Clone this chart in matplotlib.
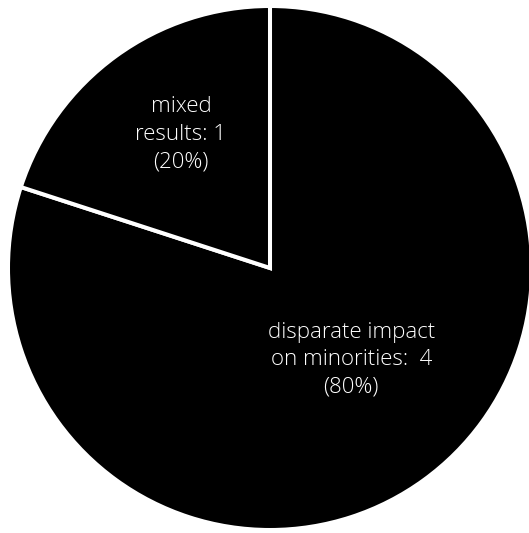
import matplotlib
matplotlib.use("Agg")
import matplotlib.pyplot as plt

categories = ["disparate impact\non minorities", "mixed\nresults"]
counts = [4, 1]
separators = ":  ", ": "
label_pos = [(0.31, -0.35), (-0.34, 0.51)]  # label centres, in pie radii

fig = plt.figure(figsize=(5.29, 5.33), dpi=100)
# pie centre at (270, 268) px from top-left, radius 262 px
cx, cy, r = 270, 268, 262
ax = fig.add_axes([(cx - r) / 529, (533 - cy - r) / 533, 2 * r / 529, 2 * r / 533])

wedges, _ = ax.pie(counts, startangle=90, counterclock=False,
                   colors=["black", "black"],
                   wedgeprops={"edgecolor": "white", "linewidth": 2.9})

total = sum(counts)
for cat, n, sep, (x, y) in zip(categories, counts, separators, label_pos):
    txt = f"{cat}{sep}{n}\n({n / total:.0%})"
    ax.text(x, y, txt, ha="center", va="center", color="white",
            fontsize=16, family="Open Sans", fontweight="light",
            linespacing=1.4)

ax.set_xlim(-1, 1)
ax.set_ylim(-1, 1)
ax.set_aspect("auto")
ax.axis("off")

fig.savefig("out.png", dpi=100)
